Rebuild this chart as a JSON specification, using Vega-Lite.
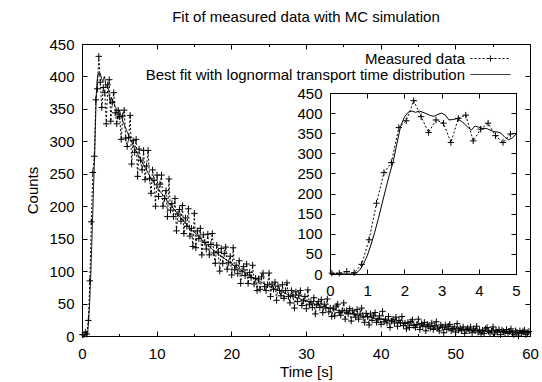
{
  "$schema": "https://vega.github.io/schema/vega-lite/v6.json",
  "width": 448,
  "height": 292,
  "autosize": {"type": "none"},
  "padding": {"left": 82, "top": 44, "right": 12, "bottom": 46},
  "title": {"text": "Fit of measured data with MC simulation", "offset": 12},
  "config": {
    "view": {"stroke": "black", "strokeWidth": 1},
    "font": "Liberation Sans",
    "title": {"font": "Liberation Sans", "fontSize": 15, "fontWeight": "normal", "color": "black"},
    "axis": {"domainColor": "black", "tickColor": "black", "labelColor": "black", "titleColor": "black", "labelFont": "Liberation Sans", "titleFont": "Liberation Sans", "labelFontSize": 15, "titleFontSize": 15, "titleFontWeight": "normal", "grid": false, "tickWidth": 1, "domainWidth": 1, "labelFlush": false, "labelOverlap": false}
  },
  "datasets": {
    "meas": [
      {"t":0.05,"v":2},{"t":0.25,"v":2},{"t":0.45,"v":6},{"t":0.65,"v":3},{"t":0.85,"v":24},
      {"t":1.05,"v":85},{"t":1.25,"v":176},{"t":1.45,"v":252},{"t":1.65,"v":277},{"t":1.85,"v":364},
      {"t":2.05,"v":381},{"t":2.25,"v":431},{"t":2.45,"v":391},{"t":2.65,"v":352},{"t":2.85,"v":383},
      {"t":3.05,"v":375},{"t":3.25,"v":327},{"t":3.45,"v":387},{"t":3.65,"v":395},{"t":3.85,"v":331},
      {"t":4.05,"v":360},{"t":4.25,"v":375},{"t":4.45,"v":344},{"t":4.65,"v":327},{"t":4.85,"v":348},
      {"t":5.05,"v":338},{"t":5.25,"v":303},{"t":5.45,"v":339},{"t":5.65,"v":348},{"t":5.85,"v":305},
      {"t":6.05,"v":292},{"t":6.25,"v":306},{"t":6.45,"v":340},{"t":6.65,"v":265},{"t":6.85,"v":301},
      {"t":7.05,"v":283},{"t":7.25,"v":303},{"t":7.45,"v":246},{"t":7.65,"v":288},{"t":7.85,"v":271},
      {"t":8.05,"v":256},{"t":8.25,"v":286},{"t":8.45,"v":241},{"t":8.65,"v":262},{"t":8.85,"v":286},
      {"t":9.05,"v":243},{"t":9.25,"v":220},{"t":9.45,"v":256},{"t":9.65,"v":240},{"t":9.85,"v":200},
      {"t":10.05,"v":248},{"t":10.25,"v":215},{"t":10.45,"v":234},{"t":10.65,"v":248},{"t":10.85,"v":200},
      {"t":11.05,"v":212},{"t":11.25,"v":224},{"t":11.45,"v":184},{"t":11.65,"v":242},{"t":11.85,"v":194},
      {"t":12.05,"v":204},{"t":12.25,"v":184},{"t":12.45,"v":212},{"t":12.65,"v":162},{"t":12.85,"v":188},
      {"t":13.05,"v":195},{"t":13.25,"v":177},{"t":13.45,"v":201},{"t":13.65,"v":158},{"t":13.85,"v":182},
      {"t":14.05,"v":169},{"t":14.25,"v":196},{"t":14.45,"v":154},{"t":14.65,"v":166},{"t":14.85,"v":138},
      {"t":15.05,"v":189},{"t":15.25,"v":136},{"t":15.45,"v":162},{"t":15.65,"v":150},{"t":15.85,"v":166},
      {"t":16.05,"v":125},{"t":16.25,"v":156},{"t":16.45,"v":144},{"t":16.65,"v":134},{"t":16.85,"v":157},
      {"t":17.05,"v":125},{"t":17.25,"v":141},{"t":17.45,"v":158},{"t":17.65,"v":128},{"t":17.85,"v":112},
      {"t":18.05,"v":140},{"t":18.25,"v":129},{"t":18.45,"v":100},{"t":18.65,"v":135},{"t":18.85,"v":112},
      {"t":19.05,"v":127},{"t":19.25,"v":137},{"t":19.45,"v":103},{"t":19.65,"v":113},{"t":19.85,"v":123},
      {"t":20.05,"v":94},{"t":20.25,"v":136},{"t":20.45,"v":102},{"t":20.65,"v":109},{"t":20.85,"v":96},
      {"t":21.05,"v":116},{"t":21.25,"v":81},{"t":21.45,"v":100},{"t":21.65,"v":107},{"t":21.85,"v":93},
      {"t":22.05,"v":111},{"t":22.25,"v":81},{"t":22.45,"v":98},{"t":22.65,"v":90},{"t":22.85,"v":109},
      {"t":23.05,"v":80},{"t":23.25,"v":89},{"t":23.45,"v":70},{"t":23.65,"v":88},{"t":23.85,"v":72},
      {"t":24.05,"v":91},{"t":24.25,"v":97},{"t":24.45,"v":76},{"t":24.65,"v":70},{"t":24.85,"v":79},
      {"t":25.05,"v":97},{"t":25.25,"v":61},{"t":25.45,"v":80},{"t":25.65,"v":72},{"t":25.85,"v":83},
      {"t":26.05,"v":55},{"t":26.25,"v":77},{"t":26.45,"v":70},{"t":26.65,"v":62},{"t":26.85,"v":79},
      {"t":27.05,"v":58},{"t":27.25,"v":70},{"t":27.45,"v":82},{"t":27.65,"v":61},{"t":27.85,"v":51},
      {"t":28.05,"v":70},{"t":28.25,"v":63},{"t":28.45,"v":43},{"t":28.65,"v":68},{"t":28.85,"v":53},
      {"t":29.05,"v":63},{"t":29.25,"v":70},{"t":29.45,"v":47},{"t":29.65,"v":54},{"t":29.85,"v":61},
      {"t":30.05,"v":42},{"t":30.25,"v":71},{"t":30.45,"v":48},{"t":30.65,"v":53},{"t":30.85,"v":44},
      {"t":31.05,"v":59},{"t":31.25,"v":34},{"t":31.45,"v":48},{"t":31.65,"v":53},{"t":31.85,"v":44},
      {"t":32.05,"v":56},{"t":32.25,"v":36},{"t":32.45,"v":49},{"t":32.65,"v":43},{"t":32.85,"v":57},
      {"t":33.05,"v":37},{"t":33.25,"v":43},{"t":33.45,"v":30},{"t":33.65,"v":43},{"t":33.85,"v":31},
      {"t":34.05,"v":46},{"t":34.25,"v":49},{"t":34.45,"v":36},{"t":34.65,"v":32},{"t":34.85,"v":39},
      {"t":35.05,"v":51},{"t":35.25,"v":26},{"t":35.45,"v":39},{"t":35.65,"v":34},{"t":35.85,"v":42},
      {"t":36.05,"v":23},{"t":36.25,"v":39},{"t":36.45,"v":34},{"t":36.65,"v":29},{"t":36.85,"v":41},
      {"t":37.05,"v":26},{"t":37.25,"v":34},{"t":37.45,"v":43},{"t":37.65,"v":29},{"t":37.85,"v":21},
      {"t":38.05,"v":35},{"t":38.25,"v":30},{"t":38.45,"v":17},{"t":38.65,"v":34},{"t":38.85,"v":24},
      {"t":39.05,"v":31},{"t":39.25,"v":36},{"t":39.45,"v":21},{"t":39.65,"v":25},{"t":39.85,"v":31},
      {"t":40.05,"v":18},{"t":40.25,"v":38},{"t":40.45,"v":22},{"t":40.65,"v":26},{"t":40.85,"v":20},
      {"t":41.05,"v":30},{"t":41.25,"v":13},{"t":41.45,"v":23},{"t":41.65,"v":26},{"t":41.85,"v":20},
      {"t":42.05,"v":29},{"t":42.25,"v":15},{"t":42.45,"v":24},{"t":42.65,"v":20},{"t":42.85,"v":30},
      {"t":43.05,"v":16},{"t":43.25,"v":20},{"t":43.45,"v":11},{"t":43.65,"v":21},{"t":43.85,"v":13},
      {"t":44.05,"v":22},{"t":44.25,"v":25},{"t":44.45,"v":16},{"t":44.65,"v":13},{"t":44.85,"v":18},
      {"t":45.05,"v":26},{"t":45.25,"v":10},{"t":45.45,"v":19},{"t":45.65,"v":15},{"t":45.85,"v":21},
      {"t":46.05,"v":8},{"t":46.25,"v":18},{"t":46.45,"v":15},{"t":46.65,"v":12},{"t":46.85,"v":20},
      {"t":47.05,"v":10},{"t":47.25,"v":16},{"t":47.45,"v":22},{"t":47.65,"v":12},{"t":47.85,"v":8},
      {"t":48.05,"v":17},{"t":48.25,"v":14},{"t":48.45,"v":5},{"t":48.65,"v":17},{"t":48.85,"v":10},
      {"t":49.05,"v":15},{"t":49.25,"v":18},{"t":49.45,"v":8},{"t":49.65,"v":11},{"t":49.85,"v":14},
      {"t":50.05,"v":6},{"t":50.25,"v":19},{"t":50.45,"v":9},{"t":50.65,"v":12},{"t":50.85,"v":8},
      {"t":51.05,"v":14},{"t":51.25,"v":4},{"t":51.45,"v":10},{"t":51.65,"v":12},{"t":51.85,"v":8},
      {"t":52.05,"v":14},{"t":52.25,"v":5},{"t":52.45,"v":11},{"t":52.65,"v":8},{"t":52.85,"v":15},
      {"t":53.05,"v":6},{"t":53.25,"v":9},{"t":53.45,"v":3},{"t":53.65,"v":9},{"t":53.85,"v":4},
      {"t":54.05,"v":11},{"t":54.25,"v":13},{"t":54.45,"v":7},{"t":54.65,"v":5},{"t":54.85,"v":8},
      {"t":55.05,"v":14},{"t":55.25,"v":3},{"t":55.45,"v":9},{"t":55.65,"v":6},{"t":55.85,"v":10},
      {"t":56.05,"v":2},{"t":56.25,"v":9},{"t":56.45,"v":7},{"t":56.65,"v":5},{"t":56.85,"v":10},
      {"t":57.05,"v":4},{"t":57.25,"v":7},{"t":57.45,"v":11},{"t":57.65,"v":5},{"t":57.85,"v":2},
      {"t":58.05,"v":8},{"t":58.25,"v":6},{"t":58.45,"v":0},{"t":58.65,"v":8},{"t":58.85,"v":4},
      {"t":59.05,"v":7},{"t":59.25,"v":9},{"t":59.45,"v":2},{"t":59.65,"v":5},{"t":59.85,"v":7}
    ],
    "fit": [
      {"t":0,"v":0},{"t":0.2,"v":0},{"t":0.4,"v":0},{"t":0.6,"v":0},{"t":0.7,"v":2},{"t":0.8,"v":10},{"t":0.9,"v":25},
      {"t":1.0,"v":45},{"t":1.1,"v":72},{"t":1.2,"v":103},{"t":1.3,"v":138},{"t":1.4,"v":175},{"t":1.5,"v":212},
      {"t":1.6,"v":248},{"t":1.7,"v":280},{"t":1.8,"v":325},{"t":1.9,"v":368},{"t":2.0,"v":390},{"t":2.1,"v":402},
      {"t":2.2,"v":405},{"t":2.3,"v":402},{"t":2.4,"v":405},{"t":2.5,"v":402},{"t":2.6,"v":398},{"t":2.7,"v":394},
      {"t":2.8,"v":392},{"t":2.9,"v":397},{"t":3.0,"v":400},{"t":3.1,"v":395},{"t":3.2,"v":383},{"t":3.3,"v":384},
      {"t":3.4,"v":386},{"t":3.5,"v":382},{"t":3.6,"v":375},{"t":3.7,"v":365},{"t":3.8,"v":358},{"t":3.9,"v":368},
      {"t":4.0,"v":365},{"t":4.1,"v":362},{"t":4.2,"v":362},{"t":4.3,"v":358},{"t":4.4,"v":354},{"t":4.5,"v":353},
      {"t":4.6,"v":350},{"t":4.7,"v":340},{"t":4.8,"v":334},{"t":4.9,"v":338},{"t":5.0,"v":348},
      {"t":5.5,"v":330},{"t":6.0,"v":316},{"t":6.5,"v":303},{"t":7.0,"v":290},{"t":7.5,"v":279},{"t":8.0,"v":269},
      {"t":8.5,"v":259},{"t":9.0,"v":248},{"t":9.5,"v":238},{"t":10.0,"v":231},{"t":10.5,"v":222},{"t":11.0,"v":215},
      {"t":11.5,"v":206},{"t":12.0,"v":200},{"t":12.5,"v":193},{"t":13.0,"v":185},{"t":13.5,"v":179},{"t":14.0,"v":172},
      {"t":14.5,"v":165},{"t":15.0,"v":160},{"t":15.5,"v":155},{"t":16.0,"v":149},{"t":16.5,"v":143},{"t":17.0,"v":139},
      {"t":17.5,"v":133},{"t":18.0,"v":129},{"t":18.5,"v":124},{"t":19.0,"v":120},{"t":19.5,"v":116},{"t":20.0,"v":111},
      {"t":20.5,"v":107},{"t":21.0,"v":104},{"t":21.5,"v":100},{"t":22.0,"v":96},{"t":22.5,"v":93},{"t":23.0,"v":89},
      {"t":23.5,"v":86},{"t":24.0,"v":83},{"t":24.5,"v":80},{"t":25.0,"v":77},{"t":25.5,"v":74},{"t":26.0,"v":72},
      {"t":26.5,"v":69},{"t":27.0,"v":67},{"t":27.5,"v":64},{"t":28.0,"v":62},{"t":28.5,"v":60},{"t":29.0,"v":58},
      {"t":29.5,"v":56},{"t":30.0,"v":54},{"t":30.5,"v":52},{"t":31.0,"v":50},{"t":31.5,"v":48},{"t":32.0,"v":46},
      {"t":32.5,"v":45},{"t":33.0,"v":43},{"t":33.5,"v":42},{"t":34.0,"v":40},{"t":34.5,"v":38},{"t":35.0,"v":37},
      {"t":35.5,"v":36},{"t":36.0,"v":35},{"t":36.5,"v":33},{"t":37.0,"v":32},{"t":37.5,"v":31},{"t":38.0,"v":30},
      {"t":38.5,"v":29},{"t":39.0,"v":28},{"t":39.5,"v":27},{"t":40.0,"v":26},{"t":41,"v":24},{"t":42,"v":22},
      {"t":43,"v":20},{"t":44,"v":18.5},{"t":45,"v":17},{"t":46,"v":15.7},{"t":47,"v":14.4},{"t":48,"v":13.3},
      {"t":49,"v":12.2},{"t":50,"v":11.2},{"t":51,"v":10.3},{"t":52,"v":9.5},{"t":53,"v":8.8},{"t":54,"v":8.1},
      {"t":55,"v":7.4},{"t":56,"v":6.8},{"t":57,"v":6.3},{"t":58,"v":5.8},{"t":59,"v":5.3},{"t":60,"v":5.0}
    ]
  },
  "layer": [
    {
      "layer": [
        {
          "data": {"name": "meas"},
          "mark": {"type": "line", "strokeWidth": 1, "color": "black"},
          "encoding": {
            "x": {"field": "t", "type": "quantitative", "scale": {"domain": [0, 60], "nice": false},
                  "axis": {"orient": "bottom", "values": [0, 10, 20, 30, 40, 50, 60], "tickSize": -5, "labelPadding": 15, "title": "Time [s]", "titlePadding": 3}},
            "y": {"field": "v", "type": "quantitative", "scale": {"domain": [0, 450], "nice": false, "zero": false},
                  "axis": {"orient": "left", "values": [0, 50, 100, 150, 200, 250, 300, 350, 400, 450], "tickSize": -5, "labelPadding": 13, "title": "Counts", "titlePadding": 8}},
            "strokeDash": {"datum": "Measured data", "type": "nominal",
              "scale": {"domain": ["Measured data", "Best fit with lognormal transport time distribution"], "range": [[2, 2], [1, 0]]},
              "legend": {"orient": "none", "legendX": 401, "legendY": 7, "title": null, "padding": 0,
                "labelAlign": "right", "labelOffset": -33, "labelLimit": 0, "labelFont": "Liberation Sans", "labelFontSize": 15, "labelColor": "black",
                "symbolSize": 100, "symbolType": "M-4,0H4", "symbolStrokeColor": "black", "symbolStrokeWidth": 1, "symbolFillColor": "transparent", "rowPadding": -3,
                "encode": {"symbols": {"update": {"shape": {"signal": "datum.value === 'Measured data' ? 'M-4,0H4M-0.6,0H-0.2M-0.2,0H0.2M0.2,0H0.6M0,-0.6V-0.2M0,-0.2V0.2M0,0.2V0.6' : 'M-4,0H4'"}}}}}}
          }
        },
        {
          "data": {"name": "meas"},
          "mark": {"type": "point", "shape": "M-1,0H1M0,-1V1", "filled": false, "size": 42, "strokeWidth": 1, "color": "black", "opacity": 1},
          "encoding": {
            "x": {"field": "t", "type": "quantitative", "axis": {"orient": "bottom", "values": [5, 15, 25, 35, 45, 55], "tickSize": -2.5, "labels": false, "domain": false, "title": null}},
            "y": {"field": "v", "type": "quantitative", "axis": null}
          }
        },
        {
          "data": {"name": "fit"},
          "mark": {"type": "line", "strokeWidth": 1, "color": "black"},
          "encoding": {
            "x": {"field": "t", "type": "quantitative", "axis": {"orient": "top", "values": [0, 10, 20, 30, 40, 50, 60], "tickSize": -5, "labels": false, "domain": false, "title": null}},
            "y": {"field": "v", "type": "quantitative", "axis": {"orient": "right", "values": [0, 50, 100, 150, 200, 250, 300, 350, 400, 450], "tickSize": -5, "labels": false, "domain": false, "title": null}},
            "strokeDash": {"datum": "Best fit with lognormal transport time distribution", "type": "nominal"}
          }
        },
        {
          "data": {"name": "fit"},
          "mark": {"type": "point", "opacity": 0},
          "encoding": {
            "x": {"field": "t", "type": "quantitative", "axis": {"orient": "top", "values": [5, 15, 25, 35, 45, 55], "tickSize": -2.5, "labels": false, "domain": false, "title": null}},
            "y": {"field": "v", "type": "quantitative", "axis": null}
          }
        }
      ],
      "resolve": {"axis": {"x": "independent", "y": "independent"}}
    },
    {
      "layer": [
        {
          "data": {"name": "meas"},
          "transform": [{"filter": "datum.t <= 5"}],
          "mark": {"type": "line", "strokeWidth": 1, "color": "black", "strokeDash": [2, 2]},
          "encoding": {
            "x": {"field": "t", "type": "quantitative", "scale": {"domain": [0, 5], "nice": false, "range": [248, 434]},
                  "axis": {"orient": "bottom", "offset": -62, "values": [0, 1, 2, 3, 4, 5], "tickSize": -5, "labelPadding": 14, "title": null}},
            "y": {"field": "v", "type": "quantitative", "scale": {"domain": [0, 450], "nice": false, "zero": false, "range": [230, 49]},
                  "axis": {"orient": "left", "offset": -248, "values": [0, 50, 100, 150, 200, 250, 300, 350, 400, 450], "tickSize": -5, "labelPadding": 13, "title": null}}
          }
        },
        {
          "data": {"name": "meas"},
          "transform": [{"filter": "datum.t <= 5"}],
          "mark": {"type": "point", "shape": "M-1,0H1M0,-1V1", "filled": false, "size": 42, "strokeWidth": 1, "color": "black", "opacity": 1},
          "encoding": {
            "x": {"field": "t", "type": "quantitative", "axis": {"orient": "top", "offset": -49, "values": [0, 1, 2, 3, 4, 5], "tickSize": -5, "labels": false, "title": null}},
            "y": {"field": "v", "type": "quantitative", "axis": {"orient": "right", "offset": -14, "values": [0, 50, 100, 150, 200, 250, 300, 350, 400, 450], "tickSize": -5, "labels": false, "title": null}}
          }
        },
        {
          "data": {"name": "fit"},
          "transform": [{"filter": "datum.t <= 5"}],
          "mark": {"type": "line", "strokeWidth": 1, "color": "black"},
          "encoding": {
            "x": {"field": "t", "type": "quantitative", "axis": null},
            "y": {"field": "v", "type": "quantitative", "axis": null}
          }
        }
      ],
      "resolve": {"axis": {"x": "independent", "y": "independent"}}
    }
  ],
  "resolve": {"scale": {"x": "independent", "y": "independent"}}
}
